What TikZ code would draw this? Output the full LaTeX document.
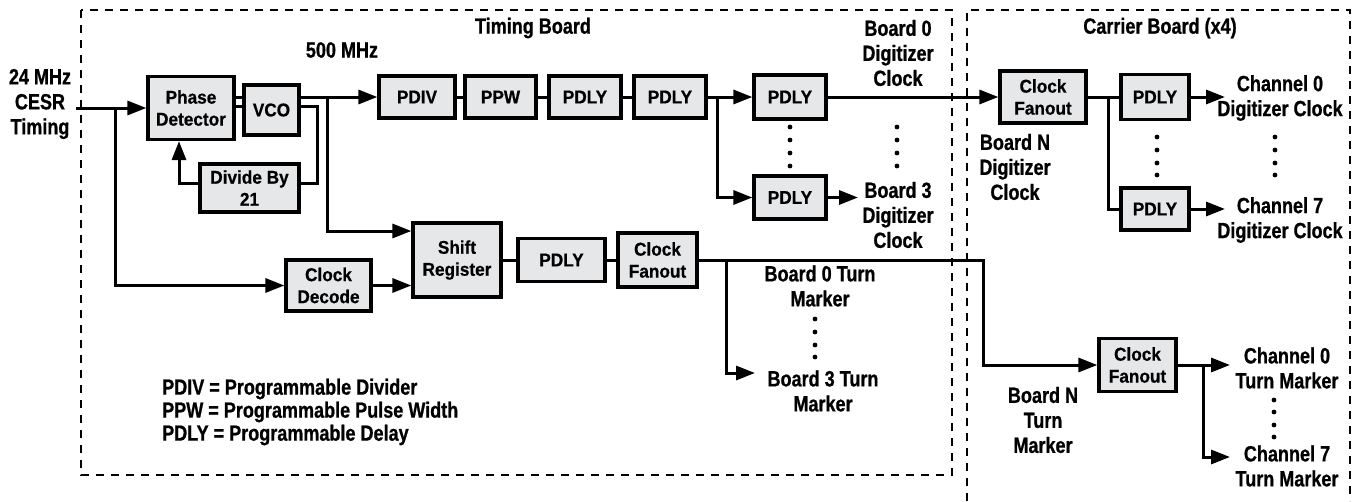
\documentclass[tikz,border=0pt]{standalone}
\usepackage{fontspec}
\setmainfont{Liberation Sans}[FakeStretch=0.93,BoldFeatures={FakeBold=0.6}]
\newfontfamily\condfont{Liberation Sans}[FakeStretch=0.82,BoldFeatures={FakeBold=0.8}]
\usetikzlibrary{positioning,arrows.meta,calc}

\definecolor{boxgray}{RGB}{230,231,232}

\tikzset{
  box/.style={draw,fill=boxgray,line width=3.2pt,inner sep=0pt,align=center,
    font=\bfseries\fontsize{18.5}{22}\selectfont},
  lbl/.style={inner sep=0pt,align=center,
    font=\condfont\bfseries\fontsize{22}{25}\selectfont},
  wire/.style={line width=3pt},
  board/.style={line width=1.3pt,dash pattern=on 8pt off 7pt},
}

\begin{document}
\begin{tikzpicture}[x=1pt,y=-1pt,>={Triangle[length=19pt,width=14pt]}]

\useasboundingbox (0,0) rectangle (1362,501);

% board outlines
\draw[board] (81,10) rectangle (952,475);
\draw[board] (967,501) -- (967,10) -- (1350,10) -- (1350,501);
\node[lbl] at (533,28) (tb) {Timing Board};
\node[lbl] at (1160,28) (cb) {Carrier Board (x4)};

% timing board blocks
\node[box,minimum width=86pt,minimum height=63pt] at (191,108) (pd) {Phase\\Detector};
\node[box,minimum width=55pt,minimum height=50pt] at (271.5,110) (vco) {VCO};
\node[box,minimum width=99pt,minimum height=48pt] at (249.5,188) (div) {Divide By\\21};
\node[box,minimum width=76pt,minimum height=42pt] at (417,97) (pdiv) {PDIV};
\node[box,minimum width=71pt,minimum height=42pt] at (500.5,97) (ppw) {PPW};
\node[box,minimum width=72pt,minimum height=42pt] at (585,97) (dlya) {PDLY};
\node[box,minimum width=72pt,minimum height=42pt] at (670,97) (dlyb) {PDLY};
\node[box,minimum width=72pt,minimum height=44pt] at (790,97) (dlyc) {PDLY};
\node[box,minimum width=72pt,minimum height=43pt] at (790,197.5) (dlyd) {PDLY};
\node[box,minimum width=85pt,minimum height=51pt] at (328.5,285.5) (dec) {Clock\\Decode};
\node[box,minimum width=88pt,minimum height=74pt] at (457,260) (sreg) {Shift\\Register};
\node[box,minimum width=87pt,minimum height=43pt] at (561.5,260) (dlye) {PDLY};
\node[box,minimum width=79pt,minimum height=54pt] at (657.5,260) (fant) {Clock\\Fanout};

% carrier board blocks
\node[box,minimum width=86pt,minimum height=52pt] at (1043,97) (fanc) {Clock\\Fanout};
\node[box,minimum width=68pt,minimum height=45pt] at (1155,97) (dlyf) {PDLY};
\node[box,minimum width=68pt,minimum height=42pt] at (1155,209) (dlyg) {PDLY};
\node[box,minimum width=77pt,minimum height=53pt] at (1137.5,365) (fand) {Clock\\Fanout};

% labels
\node[lbl] at (40,104) (cesr) {24 MHz\\CESR\\Timing};
\node[lbl] at (342,50) (mhz) {500 MHz};
\node[lbl] at (898,53) (b0c) {Board 0\\Digitizer\\Clock};
\node[lbl] at (898,215) (b3c) {Board 3\\Digitizer\\Clock};
\node[lbl] at (1015,167) (bnc) {Board N\\Digitizer\\Clock};
\node[lbl] at (1280,98) (c0c) {Channel 0\\Digitizer Clock};
\node[lbl] at (1280,220) (c7c) {Channel 7\\Digitizer Clock};
\node[lbl] at (820,286) (b0t) {Board 0 Turn\\Marker};
\node[lbl] at (823,391) (b3t) {Board 3 Turn\\Marker};
\node[lbl] at (1043,420) (bnt) {Board N\\Turn\\Marker};
\node[lbl] at (1287,368) (c0t) {Channel 0\\Turn Marker};
\node[lbl] at (1287,466) (c7t) {Channel 7\\Turn Marker};
\node[lbl,align=left,anchor=west,font=\condfont\bfseries\fontsize{22}{23}\selectfont]
  at (162,412) (legend) {PDIV = Programmable Divider\\PPW = Programmable Pulse Width\\PDLY = Programmable Delay};

% junctions and free ends
\coordinate (inp) at (76,108);
\coordinate (j1) at (115,108);
\coordinate (j2) at (327,97);
\coordinate (fb) at (317,150);
\coordinate (j4) at (717,97);
\coordinate (b3in) at (858,197.5);
\coordinate (j5) at (1108,97);
\coordinate (c0in) at (1225,97);
\coordinate (c7in) at (1225,209);
\coordinate (j3) at (726,260);
\coordinate (k1) at (983,260);
\coordinate (t3) at (755,373);
\coordinate (j6) at (1203,365);
\coordinate (t0c) at (1230,365);
\coordinate (t7c) at (1230,457);

% clock path
\draw[wire,->] (inp) -- (pd.west);
\draw[wire,->] (j1) |- (dec.west);
\draw[wire] ([yshift=11pt]pd.east) -- ([yshift=13pt]vco.west);
\draw[wire] ([yshift=2pt]pd.east) -- ([yshift=4pt]vco.west);
\draw[wire] ([yshift=4pt]vco.east) -| (fb) |- ([yshift=5pt]div.east);
\draw[wire,->] ([yshift=5pt]div.west) -| ([xshift=-12pt]pd.south);
\draw[wire,->] ([yshift=13pt]vco.east) -- (pdiv.west);
\draw[wire,->] (j2) |- ([yshift=29pt]sreg.west);
\draw[wire] (pdiv) -- (ppw);
\draw[wire] (ppw) -- (dlya);
\draw[wire] (dlya) -- (dlyb);
\draw[wire,->] (dlyb) -- (dlyc);
\draw[wire,->] (j4) |- (dlyd.west);
\draw[wire,->] (dlyd) -- (b3in);
\draw[wire,->] (dlyc) -- (fanc);
\draw[wire] (fanc) -- (dlyf);
\draw[wire] (j5) |- (dlyg.west);
\draw[wire,->] (dlyf) -- (c0in);
\draw[wire,->] (dlyg) -- (c7in);

% turn marker path
\draw[wire,->] (dec.east) -- (dec.east -| sreg.west);
\draw[wire] (sreg) -- (dlye);
\draw[wire] (dlye) -- (fant);
\draw[wire,->] (fant.east) -- (k1) |- (fand.west);
\draw[wire,->] (j3) |- (t3);
\draw[wire,->] (fand.east) -- (t0c);
\draw[wire,->] (j6) |- (t7c);

% dots
\foreach \yy in {127,140,153,166} {
  \fill (790,\yy) circle (2.4pt);
  \fill (897,\yy) circle (2.4pt);
}
\foreach \yy in {137,150,163,175} {
  \fill (1157,\yy) circle (2.4pt);
  \fill (1275,\yy) circle (2.4pt);
}
\foreach \yy in {319,332,345,357} \fill (815,\yy) circle (2.4pt);
\foreach \yy in {400,412,425,437} \fill (1274,\yy) circle (2.4pt);

\end{tikzpicture}
\end{document}
